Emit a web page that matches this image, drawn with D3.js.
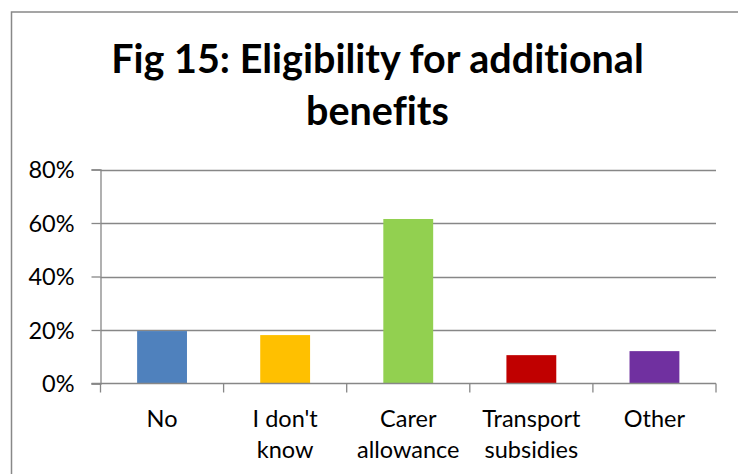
<!DOCTYPE html>
<html>
<head>
<meta charset="utf-8">
<script src="https://cdn.jsdelivr.net/npm/d3@7"></script>
<style>
  html, body { margin: 0; padding: 0; background: #fff; }
  svg { display: block; }
  text { font-variant-ligatures: none; }
</style>
</head>
<body>
<svg id="chart" width="738" height="474"></svg>
<script>
// Survey answers: share of respondents by benefit eligibility
const categories = ["No", "I don't know", "Carer allowance", "Transport subsidies", "Other"];
const labelLines = [["No"], ["I don't", "know"], ["Carer", "allowance"], ["Transport", "subsidies"], ["Other"]];
const values = [0.196, 0.181, 0.615, 0.106, 0.121];
const barColors = ["#4F81BD", "#FFC000", "#92D050", "#C00000", "#7030A0"];
const yTicks = [0, 0.2, 0.4, 0.6, 0.8];
const titleLines = ["Fig 15: Eligibility for additional", "benefits"];

const svg = d3.select("#chart");
const W = 738, H = 474;
const font = "Lato, 'Open Sans', 'DejaVu Sans', sans-serif";
const gridColor = "#878787";

// outer chart frame (runs past the right and bottom edges)
svg.append("rect")
  .attr("x", 11.5).attr("y", 12)
  .attr("width", W + 20).attr("height", H + 20)
  .attr("fill", "#fff")
  .attr("stroke", "#888").attr("stroke-width", 1.5);

const plot = { left: 100.5, right: 716, top: 169.5, bottom: 383.5 };

const x = d3.scaleBand()
  .domain(categories)
  .range([plot.left, plot.right])
  .paddingInner(0.595)
  .paddingOuter(0.2975);

const xOuter = d3.scaleBand().domain(categories).range([plot.left, plot.right]);

const y = d3.scaleLinear().domain([0, 0.8]).range([plot.bottom, plot.top]);

// title
svg.append("g").selectAll("text")
  .data(titleLines)
  .join("text")
  .attr("x", 377.5)
  .attr("y", (d, i) => 73.3 + i * 51.7)
  .attr("text-anchor", "middle")
  .attr("font-family", font)
  .attr("font-weight", "bold")
  .attr("font-size", 39.5)
  .attr("fill", "#000")
  .text(d => d);

// horizontal gridlines
svg.append("g").selectAll("line")
  .data(yTicks.filter(t => t > 0))
  .join("line")
  .attr("x1", plot.left).attr("x2", plot.right)
  .attr("y1", d => Math.round(y(d)) + 0.5).attr("y2", d => Math.round(y(d)) + 0.5)
  .attr("stroke", gridColor).attr("stroke-width", 1.3);

// y axis
const yAxis = d3.axisLeft(y)
  .tickValues(yTicks)
  .tickFormat(d3.format(".0%"))
  .tickSize(9)
  .tickPadding(17);
const gy = svg.append("g").attr("transform", `translate(${plot.left},0)`).call(yAxis);
gy.select(".domain").attr("stroke", gridColor).attr("stroke-width", 1.3);
gy.selectAll(".tick line").attr("stroke", gridColor).attr("stroke-width", 1.3);
gy.selectAll(".tick text")
  .attr("font-family", font).attr("font-size", 23.5).attr("fill", "#000")
  .attr("dy", "0.36em");

// bars
svg.append("g").selectAll("rect")
  .data(values)
  .join("rect")
  .attr("x", (d, i) => x(categories[i]))
  .attr("width", x.bandwidth())
  .attr("y", d => y(d))
  .attr("height", d => y(0) - y(d))
  .attr("fill", (d, i) => barColors[i]);

// x axis baseline and category boundary ticks
const gx = svg.append("g");
gx.append("line")
  .attr("x1", plot.left - 9).attr("x2", plot.right)
  .attr("y1", plot.bottom).attr("y2", plot.bottom)
  .attr("stroke", gridColor).attr("stroke-width", 1.3);
const bounds = categories.map(c => xOuter(c)).concat([plot.right]);
gx.selectAll("line.tk")
  .data(bounds)
  .join("line")
  .attr("class", "tk")
  .attr("x1", d => d).attr("x2", d => d)
  .attr("y1", plot.bottom).attr("y2", plot.bottom + 9)
  .attr("stroke", gridColor).attr("stroke-width", 1.3);

// category labels
const lab = svg.append("g").selectAll("text")
  .data(categories)
  .join("text")
  .attr("text-anchor", "middle")
  .attr("font-family", font)
  .attr("font-size", 23.5)
  .attr("fill", "#000");
lab.each(function (c, i) {
  const cx = xOuter(c) + xOuter.bandwidth() / 2;
  d3.select(this).selectAll("tspan")
    .data(labelLines[i])
    .join("tspan")
    .attr("x", cx)
    .attr("y", (d, j) => 426.7 + j * 31.5)
    .text(d => d);
});
</script>
</body>
</html>
